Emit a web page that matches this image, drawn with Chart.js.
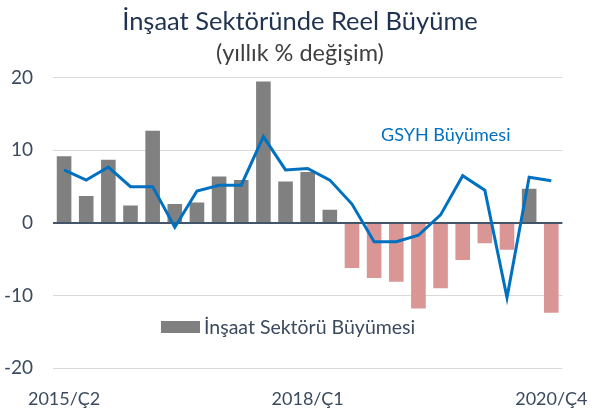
<!DOCTYPE html>
<html>
<head>
<meta charset="utf-8">
<script src="https://cdn.jsdelivr.net/npm/chart.js@4"></script>
<style>
  html, body { margin: 0; padding: 0; background: #fff; }
  #wrap { width: 600px; height: 410px; position: relative; }
</style>
</head>
<body>
<div id="wrap"><canvas id="growthChart"></canvas></div>
<script>
// quarters 2015/Ç2 .. 2020/Ç4
const quarters = [
    '2015/Ç2', '2015/Ç3', '2015/Ç4',
    '2016/Ç1', '2016/Ç2', '2016/Ç3', '2016/Ç4',
    '2017/Ç1', '2017/Ç2', '2017/Ç3', '2017/Ç4',
    '2018/Ç1', '2018/Ç2', '2018/Ç3', '2018/Ç4',
    '2019/Ç1', '2019/Ç2', '2019/Ç3', '2019/Ç4',
    '2020/Ç1', '2020/Ç2', '2020/Ç3', '2020/Ç4'
];
const shownQuarters = ['2015/Ç2', '2018/Ç1', '2020/Ç4'];

const constructionGrowth = [9.2, 3.7, 8.7, 2.4, 12.7, 2.6, 2.8, 6.4, 5.9, 19.5, 5.7, 7.0, 1.8,
    -6.2, -7.6, -8.1, -11.8, -9.0, -5.1, -2.8, -3.7, 4.7, -12.4];
const gdpGrowth = [7.3, 5.9, 7.7, 5.0, 5.0, -0.6, 4.4, 5.2, 5.2, 11.9, 7.3, 7.5, 5.9,
    2.6, -2.6, -2.6, -1.7, 1.1, 6.5, 4.5, -10.3, 6.3, 5.8];

const yMin = -20, yMax = 20, yStep = 10;

const textColor = '#3b4a5e';
const fontFamily = 'Lato, "Open Sans", sans-serif';

// legend labels drawn inside the plot, as in the original
const insideLegend = {
    id: 'insideLegend',
    afterDraw(chart) {
        const c = chart.ctx;
        c.save();
        c.textBaseline = 'middle';
        c.fillStyle = '#808080';
        c.fillRect(161, 321, 39, 12);
        c.font = '19.5px ' + fontFamily;
        c.fillStyle = textColor;
        c.fillText('İnşaat Sektörü Büyümesi', 204, 328);
        c.font = '18px ' + fontFamily;
        c.fillStyle = '#0070c0';
        c.fillText('GSYH Büyümesi', 381, 135);
        c.restore();
    }
};

new Chart(document.getElementById('growthChart').getContext('2d'), {
    data: {
        labels: quarters,
        datasets: [
            {
                type: 'line',
                label: 'GSYH Büyümesi',
                data: gdpGrowth,
                borderColor: '#0070c0',
                borderWidth: 3,
                pointRadius: 0,
                tension: 0,
                order: 0
            },
            {
                type: 'bar',
                label: 'İnşaat Sektörü Büyümesi',
                data: constructionGrowth,
                backgroundColor: ctx => ctx.raw < 0 ? '#d99694' : '#808080',
                barPercentage: 0.66,
                categoryPercentage: 1,
                order: 1
            }
        ]
    },
    options: {
        responsive: true,
        maintainAspectRatio: false,
        animation: false,
        layout: { padding: 0 },
        plugins: {
            legend: { display: false },
            tooltip: { enabled: false },
            title: {
                display: true,
                text: 'İnşaat Sektöründe Reel Büyüme',
                color: '#1f3350',
                font: { family: fontFamily, size: 25.5, weight: 'normal' },
                padding: { top: 6, bottom: 3 }
            },
            subtitle: {
                display: true,
                text: '(yıllık % değişim)',
                color: '#404040',
                font: { family: fontFamily, size: 23.5 },
                padding: { top: 0, bottom: 10 }
            }
        },
        scales: {
            x: {
                grid: { display: false },
                border: { display: false },
                ticks: {
                    autoSkip: false,
                    maxRotation: 0,
                    padding: 12,
                    color: textColor,
                    font: { family: fontFamily, size: 18 },
                    callback: function (val) {
                        const lab = this.getLabelForValue(val);
                        return shownQuarters.includes(lab) ? lab : '';
                    }
                },
                afterFit: scale => { scale.height = 42; }
            },
            y: {
                min: yMin,
                max: yMax,
                border: { display: false },
                grid: {
                    drawTicks: false,
                    color: ctx => ctx.tick.value === 0 ? '#44546a' : '#d9d9d9',
                    lineWidth: ctx => ctx.tick.value === 0 ? 2 : 1
                },
                ticks: {
                    stepSize: yStep,
                    padding: 20,
                    color: textColor,
                    font: { family: fontFamily, size: 19 }
                },
                afterFit: scale => { scale.width = 53; }
            },
            // empty right axis, only keeps the right margin so the title stays centred on the page
            yRight: {
                position: 'right',
                grid: { display: false },
                border: { display: false },
                ticks: { display: false },
                afterFit: scale => { scale.width = 28; }
            }
        }
    },
    plugins: [insideLegend]
});
</script>
</body>
</html>
